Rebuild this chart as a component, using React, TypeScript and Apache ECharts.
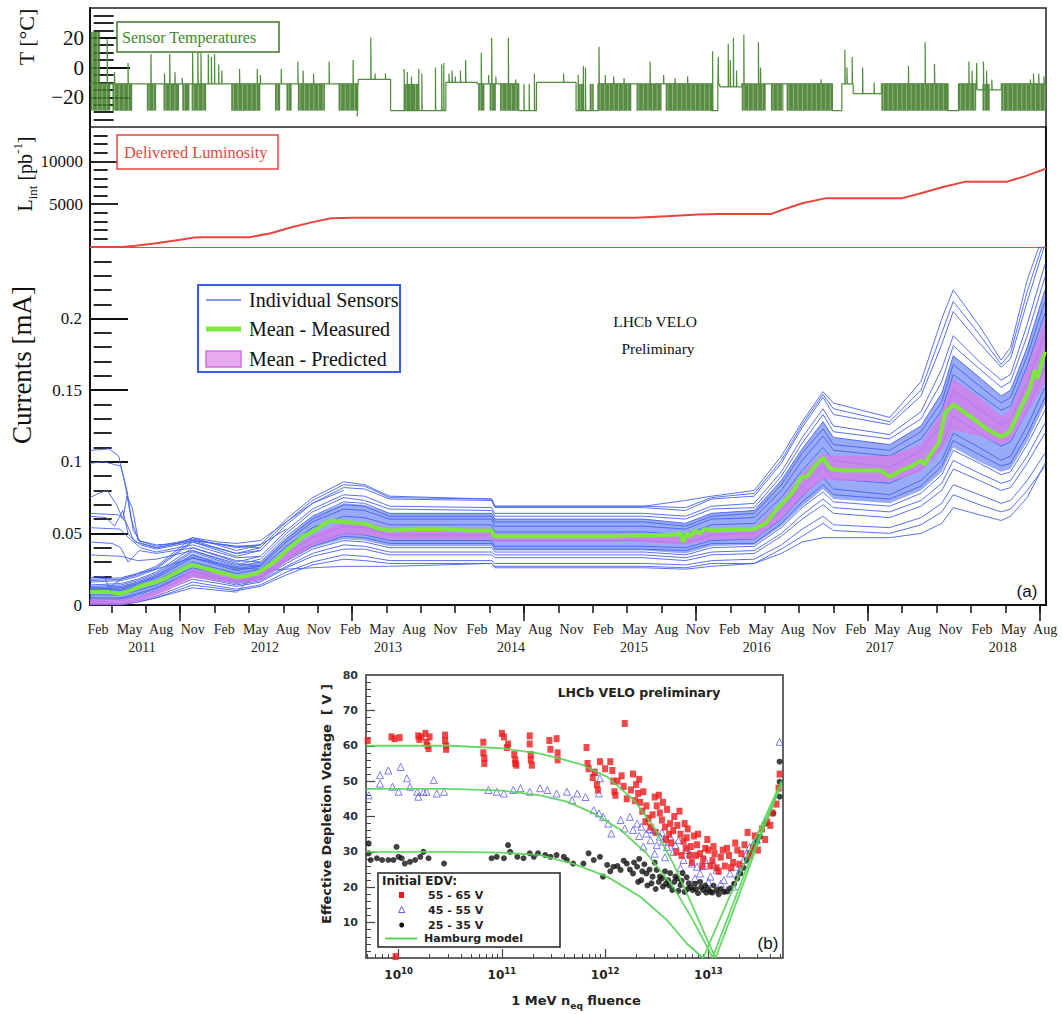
import React, { useEffect, useRef } from 'react';
import * as echarts from 'echarts';

const SERIF = '"Liberation Serif", "Times New Roman", serif';
const SANS = '"Liberation Sans", Arial, sans-serif';
const DJ = '"DejaVu Sans", Verdana, sans-serif';

// ---------- shared time axis: months after 1 Jan 2011 ----------
const X_MIN = -0.35;
const X_MAX = 91.4;
const quarterNames = ['Feb', 'May', 'Aug', 'Nov'];
const yearNames = ['2011', '2012', '2013', '2014', '2015', '2016', '2017', '2018'];
const LABEL0 = 0.42;
const LABEL_STEP = 3.03;
const YEAR0 = 4.65;
const YEAR_STEP = 11.8;
const TICK0 = 1.7;
const TICK_STEP = 3.3;

// ---------- (a) top panel: sensor temperatures [°C] ----------
// [month from which the resting level applies, level]
const tempLevels: [number, number][] = [
  [-0.35, -11], [25.4, -8], [28.5, -29], [33.8, -10], [36.8, -11], [40.8, -29], [42.5, -10],
  [46.3, -29], [48.4, -11], [59.3, -29], [59.9, -11.5], [60.1, -13], [62.2, -11], [70.9, -29],
  [71.8, -11], [72.9, -17.5], [75.6, -11], [82.0, -29], [83.0, -11], [84.7, -15], [87.1, -11], [91.4, -11],
];
// periods of dense cycling: [start, end, low, high]
const tempDense: number[][] = [
  [-0.3, 0.6, -29, 24], [0.6, 1.6, -29, -11], [1.8, 3.7, -29, -11], [5.1, 6.0, -29, -11],
  [6.7, 8.2, -29, -11], [8.5, 9.2, -29, -11], [9.4, 10.8, -29, -11], [13.2, 16.0, -29, -11],
  [17.4, 17.9, -29, -11], [18.5, 19.0, -29, -11], [19.6, 22.2, -29, -11], [23.5, 25.4, -29, -11],
  [29.8, 31.2, -29, -11], [36.9, 37.5, -29, -11], [38.0, 38.6, -29, -11], [39.0, 40.8, -29, -11],
  [46.5, 47.0, -29, -11], [47.6, 48.0, -29, -11], [48.4, 51.6, -29, -11], [52.1, 54.5, -29, -11],
  [54.9, 59.3, -29, -11], [62.2, 64.5, -29, -11], [65.0, 66.2, -29, -11], [66.5, 70.9, -29, -11],
  [75.6, 82.0, -29, -11], [83.0, 84.7, -29, -11], [85.3, 86.0, -29, -11], [87.1, 91.4, -29, -11],
];
// single excursions: [month, temperature reached]
const tempSpikes: [number, number][] = [
  [1.3, 19], [2.0, -3], [3.3, 3], [5.5, 9], [6.8, -4], [7.3, 9], [7.8, -3], [8.5, -7], [9.5, 10], [10.0, 10],
  [10.3, 10], [11.0, 9], [11.3, 7], [11.6, 9], [12.0, 2], [12.3, -2], [14.0, -1], [15.7, -1], [16.0, -5],
  [18.0, -1], [19.6, 4], [20.1, -2], [21.1, -4], [22.6, 4], [24.9, 5], [25.3, -33], [26.6, 20], [27.0, -4],
  [28.0, -4], [29.8, -1], [30.1, -3], [30.5, -6], [31.2, -1], [31.5, -4], [32.8, 0], [33.4, 2], [33.6, 3],
  [34.1, -4], [34.4, -2], [34.7, -6], [35.2, -2], [35.7, 5], [37.2, 10], [37.9, -5], [38.2, 20], [38.6, -6],
  [39.8, 20], [40.5, -8], [41.3, -11], [41.8, -11], [42.3, -4], [45.1, -4], [46.5, -5], [47.0, 1], [47.2, 0],
  [48.5, 14], [49.1, -5], [49.9, -6], [50.9, -7], [53.4, 4], [54.7, -5], [55.8, -7], [57.0, -6], [59.4, 11],
  [59.95, 7], [60.9, 16], [61.1, 5], [61.4, 20], [61.7, -2], [62.4, 22], [63.8, 17], [64.0, 0], [69.8, -8],
  [72.1, 12], [72.3, 0], [72.8, 7], [73.8, 0], [74.9, -10], [78.2, 1], [79.8, 17], [80.7, 2.5], [84.0, 4],
  [84.3, -2], [84.75, 3], [85.4, 4], [85.7, -2], [86.2, -8], [89.9, -8], [90.2, -4], [90.7, -4], [91.2, -6],
];

// ---------- (a) middle panel: delivered luminosity [pb^-1] ----------
const lumiMonths = [-0.35, 2.8, 4.0, 6.0, 8.0, 9.7, 10.5, 15.0, 17.0, 19.0, 21.0, 22.8, 25.0, 52.0, 55.0, 58.0, 60.0, 65.0, 66.5, 68.0, 70.3, 77.6, 79.5, 81.5, 83.6, 87.6, 89.5, 91.4];
const lumiValues = [0, 0, 150, 450, 800, 1100, 1150, 1150, 1600, 2300, 2900, 3350, 3400, 3400, 3600, 3800, 3850, 3850, 4500, 5100, 5700, 5700, 6300, 7000, 7600, 7600, 8300, 9150];

// ---------- (a) bottom panel: currents [mA] ----------
const knotMonths = [-0.35, 2.6, 4.2, 6, 9.5, 13.7, 16, 18.5, 21, 24, 26, 28.4, 38.2, 38.5, 52.8, 56.8, 59.3, 63.4, 66, 68, 70, 71, 76.4, 79.4, 81.4, 82.5, 85, 87.1, 88, 89.6, 91.3];
const sensorA = [0.018, 0.019, 0.022, 0.027, 0.047, 0.038, 0.042, 0.060, 0.075, 0.086, 0.084, 0.076, 0.074, 0.069, 0.069, 0.073, 0.076, 0.080, 0.104, 0.128, 0.149, 0.141, 0.131, 0.156, 0.200, 0.220, 0.195, 0.171, 0.180, 0.227, 0.262];
const sensorM = [0.017, 0.018, 0.021, 0.026, 0.045, 0.036, 0.040, 0.058, 0.073, 0.084, 0.083, 0.075, 0.074, 0.069, 0.069, 0.068, 0.075, 0.078, 0.101, 0.126, 0.147, 0.137, 0.128, 0.150, 0.190, 0.212, 0.189, 0.168, 0.176, 0.219, 0.257];
const sensorL = [0.016, 0.017, 0.020, 0.025, 0.044, 0.034, 0.038, 0.056, 0.071, 0.082, 0.081, 0.074, 0.073, 0.068, 0.068, 0.066, 0.074, 0.076, 0.099, 0.124, 0.145, 0.133, 0.126, 0.146, 0.182, 0.205, 0.183, 0.166, 0.172, 0.212, 0.252];
const sensorB = [0.014, 0.015, 0.018, 0.023, 0.040, 0.030, 0.034, 0.052, 0.067, 0.077, 0.076, 0.069, 0.068, 0.064, 0.064, 0.062, 0.069, 0.071, 0.093, 0.117, 0.137, 0.125, 0.119, 0.135, 0.165, 0.188, 0.170, 0.157, 0.161, 0.196, 0.238];
const sensorN = [0.013, 0.014, 0.017, 0.022, 0.038, 0.028, 0.032, 0.050, 0.065, 0.075, 0.073, 0.067, 0.066, 0.062, 0.062, 0.060, 0.067, 0.068, 0.090, 0.113, 0.133, 0.121, 0.116, 0.130, 0.156, 0.181, 0.165, 0.152, 0.156, 0.188, 0.229];
const sensorC = [0.012, 0.013, 0.016, 0.021, 0.037, 0.027, 0.030, 0.048, 0.062, 0.072, 0.071, 0.064, 0.064, 0.060, 0.060, 0.057, 0.064, 0.066, 0.087, 0.109, 0.128, 0.117, 0.112, 0.125, 0.148, 0.174, 0.159, 0.146, 0.150, 0.180, 0.220];
const sensorO = [0.011, 0.012, 0.015, 0.020, 0.035, 0.025, 0.028, 0.046, 0.060, 0.070, 0.069, 0.062, 0.062, 0.058, 0.058, 0.055, 0.062, 0.064, 0.084, 0.106, 0.123, 0.112, 0.108, 0.121, 0.142, 0.168, 0.153, 0.141, 0.145, 0.174, 0.212];
const sensorD = [0.011, 0.011, 0.014, 0.019, 0.033, 0.024, 0.027, 0.044, 0.058, 0.067, 0.066, 0.060, 0.060, 0.055, 0.055, 0.053, 0.060, 0.061, 0.080, 0.101, 0.118, 0.108, 0.104, 0.116, 0.136, 0.161, 0.147, 0.136, 0.139, 0.167, 0.204];
const sensorE = [0.010, 0.010, 0.013, 0.017, 0.030, 0.022, 0.025, 0.041, 0.054, 0.062, 0.061, 0.056, 0.056, 0.051, 0.051, 0.049, 0.056, 0.057, 0.075, 0.094, 0.110, 0.101, 0.096, 0.108, 0.126, 0.150, 0.137, 0.126, 0.129, 0.155, 0.189];
const sensorF = [0.007, 0.007, 0.010, 0.014, 0.026, 0.019, 0.022, 0.036, 0.047, 0.055, 0.054, 0.049, 0.049, 0.045, 0.045, 0.043, 0.049, 0.050, 0.066, 0.083, 0.097, 0.088, 0.085, 0.095, 0.111, 0.132, 0.120, 0.111, 0.114, 0.136, 0.166];
const sensorG = [0.005, 0.005, 0.008, 0.012, 0.024, 0.017, 0.020, 0.033, 0.043, 0.050, 0.049, 0.045, 0.045, 0.041, 0.041, 0.040, 0.045, 0.046, 0.060, 0.076, 0.089, 0.081, 0.077, 0.087, 0.101, 0.120, 0.110, 0.101, 0.104, 0.125, 0.152];
const sensorR = [0.004, 0.004, 0.007, 0.011, 0.023, 0.016, 0.019, 0.031, 0.041, 0.048, 0.047, 0.043, 0.043, 0.039, 0.039, 0.038, 0.043, 0.043, 0.057, 0.072, 0.084, 0.077, 0.074, 0.083, 0.097, 0.115, 0.105, 0.097, 0.099, 0.119, 0.145];
const sensorH = [0.003, 0.004, 0.006, 0.010, 0.021, 0.015, 0.018, 0.029, 0.039, 0.045, 0.044, 0.040, 0.040, 0.037, 0.037, 0.035, 0.040, 0.041, 0.054, 0.068, 0.079, 0.072, 0.069, 0.078, 0.091, 0.108, 0.099, 0.091, 0.093, 0.112, 0.136];
const sensorP = [0.002, 0.003, 0.005, 0.009, 0.020, 0.014, 0.017, 0.027, 0.036, 0.042, 0.041, 0.037, 0.037, 0.035, 0.035, 0.033, 0.037, 0.038, 0.050, 0.063, 0.074, 0.068, 0.065, 0.073, 0.085, 0.101, 0.092, 0.085, 0.087, 0.104, 0.127];
const sensorI = [0.002, 0.002, 0.004, 0.008, 0.018, 0.013, 0.016, 0.026, 0.034, 0.039, 0.039, 0.035, 0.035, 0.033, 0.033, 0.031, 0.035, 0.036, 0.048, 0.060, 0.070, 0.064, 0.061, 0.069, 0.080, 0.095, 0.087, 0.080, 0.082, 0.099, 0.120];
const sensorJ = [0.001, 0.001, 0.003, 0.006, 0.016, 0.011, 0.014, 0.023, 0.030, 0.035, 0.034, 0.031, 0.031, 0.029, 0.029, 0.028, 0.031, 0.032, 0.042, 0.053, 0.062, 0.056, 0.054, 0.061, 0.071, 0.084, 0.077, 0.071, 0.073, 0.087, 0.106];
const sensorQ = [0.001, 0.001, 0.002, 0.005, 0.014, 0.010, 0.013, 0.021, 0.028, 0.032, 0.031, 0.029, 0.029, 0.027, 0.027, 0.026, 0.029, 0.029, 0.039, 0.048, 0.057, 0.052, 0.050, 0.056, 0.065, 0.077, 0.070, 0.065, 0.067, 0.080, 0.097];
const sensorK = [0.000, 0.000, 0.002, 0.005, 0.012, 0.009, 0.024, 0.025, 0.026, 0.027, 0.027, 0.027, 0.029, 0.026, 0.026, 0.025, 0.027, 0.029, 0.036, 0.044, 0.047, 0.047, 0.047, 0.050, 0.057, 0.068, 0.063, 0.059, 0.062, 0.075, 0.099];
const individualSensors = [sensorA, sensorM, sensorL, sensorB, sensorN, sensorC, sensorO, sensorD, sensorE, sensorF, sensorG, sensorR, sensorH, sensorP, sensorI, sensorJ, sensorQ, sensorK];
// sensors that started high in early 2011: [month, current]
const earlySensors: [number, number][][] = [
  [[-0.35, 0.108], [1.5, 0.109], [2.4, 0.104], [3.0, 0.085], [3.6, 0.060], [4.3, 0.045], [6, 0.042], [8, 0.043], [9.5, 0.047], [12, 0.044], [13.7, 0.043], [16, 0.045], [18.5, 0.058], [21, 0.071], [24, 0.080]],
  [[-0.35, 0.099], [1.0, 0.100], [2.6, 0.097], [3.2, 0.080], [3.8, 0.052], [4.6, 0.043], [6, 0.040], [9.5, 0.045], [13.7, 0.041], [16, 0.042], [18.5, 0.053]],
  [[-0.35, 0.075], [0.5, 0.078], [1.3, 0.080], [2.2, 0.070], [2.8, 0.060], [3.2, 0.076], [3.7, 0.068], [4.3, 0.045], [6, 0.041], [9.5, 0.046], [13.7, 0.040], [16, 0.042]],
  [[-0.35, 0.064], [2.4, 0.063], [3.1, 0.058], [3.8, 0.046], [4.5, 0.042], [6, 0.039], [9.5, 0.044], [13.7, 0.036], [16, 0.038]],
  [[-0.35, 0.054], [2.5, 0.053], [3.5, 0.046], [4.5, 0.040], [6, 0.037], [9.5, 0.042], [13.7, 0.033], [16, 0.034]],
  [[-0.35, 0.044], [1.8, 0.043], [2.6, 0.040], [3.3, 0.030], [4.4, 0.038], [6, 0.036], [9.5, 0.040], [13.7, 0.031], [16, 0.030]],
  [[-0.35, 0.035], [2.6, 0.034], [4.2, 0.031], [6, 0.032], [9.5, 0.038], [13.7, 0.029], [16, 0.027]],
  [[-0.35, 0.019], [1.0, 0.020], [1.5, 0.012], [2.6, 0.018], [4.2, 0.022], [6, 0.025], [9.5, 0.033], [13.7, 0.026], [16, 0.025]],
  [[-0.35, 0.062], [1.2, 0.061], [2.0, 0.055], [2.8, 0.066], [3.3, 0.050], [4.0, 0.044], [6, 0.040], [9.5, 0.045], [13.7, 0.041], [16, 0.040]],
];
const coreLow = [0.004, 0.004, 0.007, 0.011, 0.021, 0.015, 0.018, 0.030, 0.040, 0.046, 0.045, 0.041, 0.041, 0.038, 0.038, 0.036, 0.041, 0.042, 0.055, 0.069, 0.081, 0.074, 0.071, 0.080, 0.093, 0.110, 0.100, 0.093, 0.095, 0.114, 0.140];
const coreHigh = [0.013, 0.013, 0.016, 0.021, 0.036, 0.027, 0.030, 0.047, 0.062, 0.071, 0.070, 0.064, 0.064, 0.060, 0.060, 0.057, 0.064, 0.066, 0.087, 0.109, 0.128, 0.117, 0.112, 0.125, 0.148, 0.174, 0.159, 0.146, 0.150, 0.180, 0.220];
const predLow = [0.000, 0.000, 0.002, 0.006, 0.019, 0.015, 0.017, 0.030, 0.041, 0.049, 0.049, 0.046, 0.046, 0.044, 0.044, 0.042, 0.046, 0.046, 0.060, 0.076, 0.088, 0.087, 0.086, 0.093, 0.108, 0.122, 0.118, 0.112, 0.115, 0.134, 0.155];
const predHigh = [0.004, 0.004, 0.006, 0.010, 0.025, 0.020, 0.023, 0.037, 0.049, 0.058, 0.058, 0.054, 0.054, 0.050, 0.050, 0.049, 0.053, 0.054, 0.072, 0.092, 0.106, 0.104, 0.104, 0.112, 0.135, 0.158, 0.145, 0.132, 0.136, 0.165, 0.200];
const meanMeasured: [number, number][] = [
  [-0.35, 0.009], [1.5, 0.009], [2.6, 0.008], [3.5, 0.010], [4.8, 0.014], [6, 0.016], [7, 0.019], [8, 0.023], [9.3, 0.028],
  [10, 0.027], [11, 0.025], [12.5, 0.022], [13.7, 0.0196], [14.5, 0.020], [15.6, 0.022], [16.5, 0.026], [17.5, 0.031],
  [18.5, 0.038], [19.3, 0.043], [20.1, 0.048], [21, 0.051], [22, 0.056], [22.7, 0.059], [24, 0.058], [26, 0.057], [27, 0.054],
  [28.4, 0.052], [31, 0.053], [33.5, 0.053], [36, 0.052], [38.2, 0.052], [38.4, 0.048], [45, 0.048], [50, 0.048], [55.7, 0.049],
  [56.3, 0.050], [56.6, 0.044], [56.9, 0.050], [57.3, 0.048], [57.7, 0.052], [58.2, 0.050], [58.6, 0.053], [59.3, 0.052],
  [63.4, 0.053], [64.5, 0.057], [65.7, 0.068], [66.5, 0.074], [67.2, 0.080], [67.9, 0.089], [68.5, 0.090], [69.2, 0.097],
  [70, 0.1027], [70.7, 0.095], [72, 0.094], [75.5, 0.094], [76.4, 0.0896], [77.5, 0.094], [78.5, 0.097], [79.4, 0.101],
  [79.8, 0.098], [80.2, 0.104], [81.1, 0.113], [81.7, 0.134], [82.5, 0.140], [83.9, 0.133], [85.9, 0.122], [87.1, 0.1175],
  [87.9, 0.121], [89, 0.138], [89.8, 0.150], [90.3, 0.164], [90.6, 0.158], [91, 0.170], [91.3, 0.177],
];

// ---------- (b): [log10(1 MeV neq fluence), effective depletion voltage V] ----------
const edv55to65: [number, number][] = [
  [9.70, 61.5], [9.93, 62.5], [9.96, 62.0], [10.01, 62.3], [10.19, 62.8], [10.20, 61.8], [10.22, 62.5], [10.26, 63.5], [10.27, 61.0],
  [10.28, 60.0], [10.29, 59.2], [10.30, 62.5], [10.45, 63.0], [10.45, 61.5], [10.46, 60.0], [10.46, 59.0], [10.82, 61.0], [10.82, 58.0],
  [10.83, 56.5], [10.83, 55.0], [11.00, 63.5], [11.02, 62.5], [11.05, 59.5], [11.06, 60.5], [11.12, 57.5], [11.13, 56.0], [11.13, 55.0],
  [11.14, 54.5], [11.27, 62.8], [11.27, 60.5], [11.28, 57.5], [11.28, 56.0], [11.29, 54.5], [11.46, 61.5], [11.47, 59.0], [11.53, 62.0],
  [11.54, 58.0], [11.54, 56.0], [11.82, 59.5], [11.83, 55.0], [11.84, 53.5], [11.90, 52.5], [11.92, 49.0], [11.93, 47.5], [12.05, 55.5],
  [12.07, 53.0], [12.08, 50.0], [12.09, 47.0], [12.10, 46.0], [12.16, 51.5], [12.18, 48.5], [12.19, 66.3], [12.27, 52.0], [12.30, 49.0],
  [12.32, 46.5], [12.34, 44.0], [12.36, 41.5], [12.40, 43.0], [12.42, 39.5], [12.44, 37.0], [12.48, 45.5], [12.50, 43.0], [12.53, 41.0],
  [12.55, 39.0], [12.58, 37.0], [12.60, 42.0], [12.62, 35.0], [12.64, 32.5], [12.67, 40.0], [12.70, 37.5], [12.73, 35.0], [12.76, 33.0],
  [12.78, 31.0], [12.80, 36.5], [12.82, 29.0], [12.84, 27.0], [12.86, 34.5], [12.89, 32.0], [12.92, 29.5], [12.95, 28.0], [12.97, 31.0],
  [13.00, 30.5], [13.04, 27.5], [13.05, 31.5], [13.08, 25.5], [13.10, 24.5], [13.12, 28.5], [13.16, 26.0], [13.18, 31.0], [13.20, 29.0],
  [13.24, 27.0], [13.28, 30.5], [13.30, 26.5], [13.35, 32.0], [13.40, 29.0], [13.45, 34.5], [13.48, 30.5], [13.57, 38.5], [13.62, 41.0],
  [13.66, 43.5], [13.68, 48.0], [13.69, 52.0], [9.97, 0.4],
  [12.25, 47.5], [12.29, 44.5], [12.33, 50.5], [12.37, 47.0], [12.39, 38.5], [12.46, 40.5], [12.49, 35.5], [12.52, 46.0], [12.56, 44.0],
  [12.59, 33.5], [12.63, 38.0], [12.66, 36.0], [12.69, 30.0], [12.72, 41.5], [12.74, 29.0], [12.77, 38.0], [12.79, 34.0], [12.83, 31.5],
  [12.88, 29.0], [12.90, 35.0], [12.94, 26.0], [12.99, 33.5], [13.02, 26.0], [13.06, 29.5], [13.14, 30.5], [13.22, 25.5], [13.26, 32.5],
  [13.32, 29.5], [13.38, 35.5], [13.43, 31.0], [13.52, 36.5], [13.55, 33.5], [13.60, 37.5], [12.00, 53.5], [11.95, 55.5], [12.12, 50.0],
  [12.21, 45.0], [11.88, 51.0],
];
const edv45to55: [number, number][] = [
  [9.71, 46.0], [9.82, 51.7], [9.82, 49.3], [9.90, 53.0], [9.94, 48.4], [10.00, 47.0], [10.02, 54.0], [10.08, 50.8], [10.11, 48.4],
  [10.18, 47.0], [10.19, 45.6], [10.24, 47.0], [10.27, 47.0], [10.34, 50.3], [10.37, 46.5], [10.44, 47.0], [10.87, 47.5], [10.95, 47.0],
  [11.02, 46.5], [11.11, 47.5], [11.18, 48.0], [11.27, 47.0], [11.37, 48.0], [11.44, 47.5], [11.53, 46.5], [11.63, 47.0], [11.68, 44.6],
  [11.73, 46.5], [11.81, 45.5], [11.90, 52.6], [11.94, 46.5], [11.95, 50.8], [11.89, 41.8], [11.94, 40.9], [11.98, 39.9], [12.03, 38.0],
  [12.06, 35.2], [12.15, 39.0], [12.19, 36.6], [12.24, 39.9], [12.27, 36.2], [12.31, 38.0], [12.35, 37.1], [12.40, 35.2], [12.44, 33.3],
  [12.47, 36.2], [12.50, 31.9], [12.53, 34.3], [12.56, 32.9], [12.60, 31.4], [12.63, 34.3], [12.66, 30.0], [12.71, 33.3], [12.76, 27.7],
  [12.79, 30.5], [12.84, 26.7], [12.89, 25.8], [12.92, 23.9], [12.97, 27.7], [13.02, 23.0], [13.08, 24.9], [13.15, 22.0], [13.18, 19.2],
  [13.21, 23.9], [13.24, 20.2], [13.27, 25.8], [13.34, 27.7], [13.40, 31.4], [13.47, 33.3], [13.69, 61.1],
  [12.33, 34.5], [12.37, 31.5], [12.43, 36.5], [12.48, 29.5], [12.55, 35.5], [12.58, 28.5], [12.68, 32.0], [12.73, 25.5], [12.82, 29.5],
  [12.87, 22.5], [12.95, 26.0], [13.00, 21.5], [13.05, 26.5], [13.12, 21.0], [13.30, 24.5], [13.37, 29.5], [13.44, 32.5],
];
const edv25to35: [number, number][] = [
  [9.71, 32.4], [9.71, 29.6], [9.73, 27.7], [9.79, 28.2], [9.84, 27.7], [9.90, 27.7], [9.95, 27.7], [9.98, 31.4], [10.00, 28.6],
  [10.03, 28.2], [10.06, 26.7], [10.11, 27.2], [10.16, 27.7], [10.21, 28.6], [10.24, 30.0], [10.29, 28.2], [10.44, 26.7], [10.90, 28.2],
  [10.95, 28.6], [11.02, 28.2], [11.06, 31.9], [11.08, 30.0], [11.15, 28.6], [11.21, 28.2], [11.27, 29.6], [11.31, 28.6], [11.35, 29.6],
  [11.42, 29.1], [11.47, 28.6], [11.53, 29.1], [11.60, 28.6], [11.63, 27.7], [11.69, 26.7], [11.79, 26.7], [11.84, 29.6], [11.89, 27.7],
  [11.95, 28.6], [11.98, 23.0], [12.02, 26.3], [12.08, 25.8], [12.15, 24.9], [12.21, 26.7], [12.27, 23.9], [12.31, 25.8], [12.33, 28.0],
  [12.35, 22.0], [12.38, 26.5], [12.40, 23.9], [12.43, 25.0], [12.45, 21.1], [12.48, 27.0], [12.50, 24.9], [12.52, 21.5], [12.53, 23.0],
  [12.56, 20.2], [12.58, 24.5], [12.61, 22.0], [12.62, 20.5], [12.65, 19.2], [12.68, 23.0], [12.70, 22.5], [12.73, 20.6], [12.75, 24.0],
  [12.77, 18.7], [12.80, 19.5], [12.81, 21.1], [12.85, 19.2], [12.87, 21.0], [12.90, 18.3], [12.93, 20.0], [12.95, 19.2], [12.98, 18.5],
  [13.02, 18.7], [13.05, 20.5], [13.08, 19.2], [13.12, 19.5], [13.15, 18.7], [13.21, 19.7], [13.31, 23.9], [13.37, 27.7], [13.44, 31.4],
  [13.50, 34.3], [13.56, 38.0], [13.63, 40.9], [13.69, 45.6], [13.69, 49.8], [13.69, 55.5],
  [12.32, 21.5], [12.36, 24.5], [12.41, 20.5], [12.46, 23.0], [12.49, 19.5], [12.55, 22.5], [12.59, 21.0], [12.63, 24.0], [12.67, 21.5],
  [12.71, 19.0], [12.74, 21.8], [12.79, 22.8], [12.83, 20.0], [12.88, 19.5], [12.92, 21.5], [12.97, 20.5], [13.00, 19.5], [13.04, 18.5],
  [13.10, 18.0], [13.18, 18.8], [13.25, 21.0], [13.28, 22.5], [13.34, 25.5], [13.40, 29.5], [13.47, 33.0], [12.18, 27.5], [12.24, 25.0],
  [12.12, 26.0], [12.05, 24.5], [12.28, 27.0],
];
const hamburg60: [number, number][] = [[9.684, 60], [10.5, 60], [11.0, 59.3], [11.37, 57.8], [11.6, 56.1], [11.79, 54.5], [12.02, 51.2], [12.28, 44.6], [12.47, 37.1], [12.66, 26.7], [12.82, 16.4], [12.99, 5.1], [13.07, 0], [13.3, 18], [13.5, 34], [13.71, 49.5]];
const hamburg48: [number, number][] = [[9.684, 47.8], [10.5, 47.8], [11.0, 47.3], [11.37, 46.0], [11.63, 44.2], [11.89, 40.9], [12.15, 36.2], [12.40, 29.6], [12.66, 20.1], [12.85, 10.7], [13.02, 1.4], [13.04, 0], [13.3, 20], [13.5, 35], [13.71, 49.5]];
const hamburg30: [number, number][] = [[9.684, 30], [10.5, 30], [11.0, 29.8], [11.37, 29.1], [11.69, 26.7], [12.02, 23.0], [12.34, 17.3], [12.60, 10.7], [12.79, 4.1], [12.95, 0], [13.2, 17], [13.45, 33.5], [13.71, 50]];
const bVoltageLabels = [10, 20, 30, 40, 50, 60, 70, 80];
const bDecades = [10, 11, 12, 13];

// ---------- helpers ----------
const zip = (xs: number[], ys: number[]) => xs.map((x, i) => [x, ys[i]]);

function buildTempLine() {
  const pts: number[][] = [];
  for (let i = 0; i < tempLevels.length - 1; i++) {
    const [m0, L] = tempLevels[i];
    const m1 = tempLevels[i + 1][0];
    pts.push([m0, L]);
    tempSpikes.filter((s) => s[0] >= m0 && s[0] < m1).forEach(([m, t]) => {
      pts.push([m, L], [m, t], [m + 0.03, L]);
    });
    pts.push([m1, L]);
  }
  return pts;
}

function band(xs: number[], lo: number[], hi: number[], fill: string, xi: number, yi: number, z: number) {
  return {
    type: 'custom', xAxisIndex: xi, yAxisIndex: yi, clip: true, silent: true, z,
    data: [[xs[0], lo[0]]],
    renderItem: (_p: any, api: any) => {
      const pts: number[][] = [];
      for (let i = 0; i < xs.length; i++) pts.push(api.coord([xs[i], hi[i]]));
      for (let i = xs.length - 1; i >= 0; i--) pts.push(api.coord([xs[i], lo[i]]));
      return { type: 'polygon', shape: { points: pts }, style: { fill } };
    },
  };
}

const blank = { axisLine: { show: false }, axisTick: { show: false }, axisLabel: { show: false }, splitLine: { show: false } };
const inTick = (values: number[], length: number, width = 1.8, color = '#111') => ({ show: true, inside: true, customValues: values, length, lineStyle: { color, width } });
const leftLine = { show: true, onZero: false, lineStyle: { color: '#111', width: 2 } };

function buildOption(): any {
  const tickMonths = Array.from({ length: 28 }, (_, k) => TICK0 + TICK_STEP * k);
  const longTickMonths = tickMonths.filter((_, k) => k % 5 === 2);
  const labelMonths = Array.from({ length: 31 }, (_, k) => LABEL0 + LABEL_STEP * k);
  const yearMonths = yearNames.map((_, k) => YEAR0 + YEAR_STEP * k);
  const tempMinor = [-35, -30, -25, -15, -10, -5, 5, 10, 15, 25, 30, 35];
  const lumiMinor = [1000, 2000, 3000, 4000, 6000, 7000, 8000, 9000, 11000, 12000, 13000];
  const curMinor: number[] = [];
  for (let i = 1; i < 25; i++) if (i % 5 !== 0) curMinor.push(i / 100);
  const vMinor: number[] = [];
  for (let v = 2; v < 80; v += 2) if (v % 10 !== 0) vMinor.push(v);
  const logMinor: number[] = [];
  for (let n = 9; n <= 13; n++) for (let k = 2; k <= 9; k++) {
    const l = n + Math.log10(k);
    if (l > 9.684 && l < 13.723) logMinor.push(l);
  }

  const series: any[] = [];
  // temperatures: dense cycling periods drawn as a striped block
  series.push({
    type: 'custom', xAxisIndex: 0, yAxisIndex: 0, clip: true, silent: true, z: 2,
    data: tempDense,
    renderItem: (_p: any, api: any) => {
      const a = api.coord([api.value(0), api.value(3)]);
      const b = api.coord([api.value(1), api.value(2)]);
      const children: any[] = [
        { type: 'rect', shape: { x: a[0], y: a[1], width: b[0] - a[0], height: b[1] - a[1] }, style: { fill: '#3c7724', opacity: 0.85 } },
      ];
      for (let x = a[0] + 2.2; x < b[0] - 1; x += 4.6) {
        children.push({ type: 'line', shape: { x1: x, y1: a[1], x2: x, y2: b[1] }, style: { stroke: 'rgba(190,225,180,0.55)', lineWidth: 0.9 } });
      }
      return { type: 'group', children };
    },
  });
  series.push({
    type: 'line', xAxisIndex: 0, yAxisIndex: 0, data: buildTempLine(), showSymbol: false, symbol: 'none', silent: true, z: 3,
    lineStyle: { color: '#4f8d3a', width: 1.2 },
  });
  // luminosity
  series.push({
    type: 'line', xAxisIndex: 1, yAxisIndex: 2, data: zip(lumiMonths, lumiValues), showSymbol: false, symbol: 'none', silent: true,
    lineStyle: { color: '#e8453c', width: 2 },
  });
  // currents
  series.push(band(knotMonths, coreLow, coreHigh, 'rgba(70,100,238,0.55)', 2, 5, 2));
  individualSensors.forEach((vals) => series.push({
    type: 'line', xAxisIndex: 2, yAxisIndex: 5, data: zip(knotMonths, vals), showSymbol: false, symbol: 'none', silent: true, z: 3,
    lineStyle: { color: '#4563ef', width: 1, opacity: 0.9 },
  }));
  earlySensors.forEach((pts) => series.push({
    type: 'line', xAxisIndex: 2, yAxisIndex: 5, data: pts, showSymbol: false, symbol: 'none', silent: true, z: 3,
    lineStyle: { color: '#4563ef', width: 1, opacity: 0.9 },
  }));
  series.push(band(knotMonths, predLow, predHigh, 'rgba(216,124,234,0.72)', 2, 5, 4));
  series.push({
    type: 'line', xAxisIndex: 2, yAxisIndex: 5, data: meanMeasured, showSymbol: false, symbol: 'none', silent: true, z: 5,
    lineStyle: { color: '#7be83a', width: 4 },
  });
  // (b)
  series.push({
    type: 'scatter', xAxisIndex: 6, yAxisIndex: 8, data: edv45to55, symbol: 'triangle', symbolSize: 7, silent: true, z: 3,
    itemStyle: { color: 'rgba(0,0,0,0)', borderColor: '#4a4af2', borderWidth: 0.9 },
  });
  series.push({
    type: 'scatter', xAxisIndex: 6, yAxisIndex: 8, data: edv25to35, symbol: 'circle', symbolSize: 6, silent: true, z: 4,
    itemStyle: { color: '#111' },
  });
  series.push({
    type: 'scatter', xAxisIndex: 6, yAxisIndex: 8, data: edv55to65, symbol: 'rect', symbolSize: [6, 7], silent: true, z: 5,
    itemStyle: { color: '#ee1c1c' },
  });
  [hamburg60, hamburg48, hamburg30].forEach((c) => series.push({
    type: 'line', xAxisIndex: 6, yAxisIndex: 8, data: c, showSymbol: false, symbol: 'none', silent: true, z: 6,
    lineStyle: { color: '#55d455', width: 1.8, opacity: 0.9 },
  }));

  const txt = (x: number, y: number, text: string, extra: any = {}, z = 101) => ({
    type: 'text', x, y, z, silent: true,
    style: { text, fill: '#111', fontFamily: SERIF, fontSize: 16, verticalAlign: 'middle', ...extra },
  });

  const graphic: any[] = [
    // panel boxes
    { type: 'rect', z: 100, silent: true, shape: { x: 117, y: 22, width: 162, height: 30 }, style: { fill: '#fff', stroke: '#3f7a25', lineWidth: 1.5 } },
    txt(122, 37.5, 'Sensor Temperatures', { fill: '#3d8a28', fontSize: 16 }),
    { type: 'rect', z: 100, silent: true, shape: { x: 117, y: 135, width: 161, height: 34 }, style: { fill: '#fff', stroke: '#e8463e', lineWidth: 1.5 } },
    txt(124, 152, 'Delivered Luminosity', { fill: '#e8463e', fontSize: 16.3 }),
    // axis titles
    { type: 'text', x: 26, y: 37, rotation: Math.PI / 2, silent: true, style: { text: 'T [°C]', fill: '#111', fontFamily: SERIF, fontSize: 22, align: 'center', verticalAlign: 'middle' } },
    {
      type: 'text', x: 25, y: 174, rotation: Math.PI / 2, silent: true,
      style: {
        text: '{n|L}{sub|int}{n| [pb}{sup|-1}{n|]}', align: 'center', verticalAlign: 'middle',
        rich: {
          n: { fontFamily: SERIF, fontSize: 20, fill: '#111', lineHeight: 28, verticalAlign: 'middle' },
          sub: { fontFamily: SERIF, fontSize: 13, fill: '#111', verticalAlign: 'bottom' },
          sup: { fontFamily: SERIF, fontSize: 13, fill: '#111', verticalAlign: 'top' },
        },
      },
    },
    { type: 'text', x: 22, y: 365, rotation: Math.PI / 2, silent: true, style: { text: 'Currents [mA]', fill: '#111', fontFamily: SERIF, fontSize: 27, align: 'center', verticalAlign: 'middle' } },
    // legend (a)
    { type: 'rect', z: 100, silent: true, shape: { x: 198, y: 285, width: 202, height: 87 }, style: { fill: '#fff', stroke: '#3a5cf0', lineWidth: 2 } },
    { type: 'line', z: 101, silent: true, shape: { x1: 206, y1: 300, x2: 241, y2: 300 }, style: { stroke: '#5a74ee', lineWidth: 1.5 } },
    { type: 'line', z: 101, silent: true, shape: { x1: 206, y1: 329, x2: 241, y2: 329 }, style: { stroke: '#7be83a', lineWidth: 5 } },
    { type: 'rect', z: 101, silent: true, shape: { x: 206, y: 351, width: 35, height: 16 }, style: { fill: '#e9abf0', stroke: '#d070e2', lineWidth: 1.5 } },
    txt(249, 300, 'Individual Sensors', { fontSize: 20 }),
    txt(249, 329, 'Mean - Measured', { fontSize: 20 }),
    txt(249, 359, 'Mean - Predicted', { fontSize: 20 }),
    txt(655, 321, 'LHCb VELO', { fontSize: 15.5, align: 'center' }),
    txt(658, 348, 'Preliminary', { fontSize: 15.5, align: 'center' }),
    txt(1027, 591, '(a)', { fontFamily: SANS, fontSize: 17, align: 'center' }),
    // (b) texts
    txt(639, 692, 'LHCb VELO preliminary', { fontFamily: DJ, fontWeight: 'bold', fontSize: 12.5, align: 'center', fill: '#222' }),
    { type: 'text', x: 326, y: 804, rotation: Math.PI / 2, silent: true, style: { text: 'Effective Depletion Voltage  [ V ]', fill: '#222', fontFamily: DJ, fontWeight: 'bold', fontSize: 13, align: 'center', verticalAlign: 'middle' } },
    {
      type: 'text', x: 576, y: 1000, silent: true,
      style: {
        text: '{n|1 MeV n}{sub|eq}{n| fluence}', align: 'center', verticalAlign: 'middle',
        rich: {
          n: { fontFamily: DJ, fontWeight: 'bold', fontSize: 13, fill: '#222', lineHeight: 20, verticalAlign: 'middle' },
          sub: { fontFamily: DJ, fontWeight: 'bold', fontSize: 9, fill: '#222', verticalAlign: 'bottom' },
        },
      },
    },
    txt(768, 943, '(b)', { fontFamily: SANS, fontSize: 17, align: 'center' }),
    // legend (b)
    { type: 'rect', z: 100, silent: true, shape: { x: 378, y: 873, width: 182, height: 74 }, style: { fill: '#fff', stroke: '#222', lineWidth: 1.5 } },
    txt(382, 881, 'Initial EDV:', { fontFamily: DJ, fontWeight: 'bold', fontSize: 12, fill: '#222' }),
    { type: 'rect', z: 101, silent: true, shape: { x: 399, y: 892, width: 5, height: 6 }, style: { fill: '#ee1c1c' } },
    { type: 'polygon', z: 101, silent: true, shape: { points: [[401.7, 906.5], [398.6, 912.5], [404.8, 912.5]] }, style: { fill: 'none', stroke: '#4a4af2', lineWidth: 0.9 } },
    { type: 'circle', z: 101, silent: true, shape: { cx: 401.7, cy: 925, r: 2.5 }, style: { fill: '#111' } },
    { type: 'line', z: 101, silent: true, shape: { x1: 385, y1: 938.5, x2: 417, y2: 938.5 }, style: { stroke: '#55d455', lineWidth: 2 } },
    txt(428, 895, '55 - 65 V', { fontFamily: DJ, fontWeight: 'bold', fontSize: 11, fill: '#222' }),
    txt(428, 910, '45 - 55 V', { fontFamily: DJ, fontWeight: 'bold', fontSize: 11, fill: '#222' }),
    txt(428, 925, '25 - 35 V', { fontFamily: DJ, fontWeight: 'bold', fontSize: 11, fill: '#222' }),
    txt(424, 938.5, 'Hamburg model', { fontFamily: DJ, fontWeight: 'bold', fontSize: 11, fill: '#222' }),
  ];

  const tAxis = { type: 'value', min: X_MIN, max: X_MAX };
  const supRich = {
    b: { fontFamily: DJ, fontWeight: 'bold', fontSize: 12, color: '#222', lineHeight: 17 },
    s: { fontFamily: DJ, fontWeight: 'bold', fontSize: 8.5, color: '#222', verticalAlign: 'top' },
  };

  return {
    animation: false,
    backgroundColor: '#fff',
    textStyle: { fontFamily: SERIF },
    grid: [
      { left: 90, top: 8, width: 956, height: 119, show: true, borderColor: '#222', borderWidth: 1.5, outerBoundsMode: 'none', containLabel: false },
      { left: 90, top: 127, width: 956, height: 120, show: false, outerBoundsMode: 'none', containLabel: false },
      { left: 90, top: 247, width: 956, height: 358, show: false, outerBoundsMode: 'none', containLabel: false },
      { left: 366, top: 675, width: 417, height: 283, show: true, borderColor: '#333', borderWidth: 1.5, outerBoundsMode: 'none', containLabel: false },
    ],
    xAxis: [
      { ...tAxis, gridIndex: 0, show: false },
      { ...tAxis, gridIndex: 1, ...blank, axisLine: { show: true, onZero: false, lineStyle: { color: '#e8463e', width: 1 } } },
      {
        ...tAxis, gridIndex: 2, position: 'bottom', ...blank,
        axisLine: { show: true, onZero: false, lineStyle: { color: '#111', width: 2 } },
        axisTick: { show: true, customValues: tickMonths, length: 8, lineStyle: { color: '#111', width: 1.5 } },
      },
      { ...tAxis, gridIndex: 2, position: 'bottom', ...blank, axisTick: { show: true, customValues: longTickMonths, length: 16, lineStyle: { color: '#111', width: 1.5 } } },
      {
        ...tAxis, gridIndex: 2, position: 'bottom', ...blank,
        axisLabel: {
          show: true, customValues: labelMonths, margin: 17, fontFamily: SERIF, fontSize: 14, color: '#222',
          formatter: (v: number) => quarterNames[((Math.round((v - LABEL0) / LABEL_STEP) % 4) + 4) % 4],
        },
      },
      {
        ...tAxis, gridIndex: 2, position: 'bottom', ...blank,
        axisLabel: {
          show: true, customValues: yearMonths, margin: 35, fontFamily: SERIF, fontSize: 14, color: '#222',
          formatter: (v: number) => yearNames[Math.round((v - YEAR0) / YEAR_STEP)] || '',
        },
      },
      {
        type: 'value', gridIndex: 3, min: 9.684, max: 13.723, position: 'bottom', ...blank,
        axisTick: inTick(logMinor, 4, 1, '#444'),
        axisLabel: { show: true, customValues: bDecades, margin: 8, formatter: (v: number) => `{b|10}{s|${Math.round(v)}}`, rich: supRich },
      },
      { type: 'value', gridIndex: 3, min: 9.684, max: 13.723, position: 'bottom', ...blank, axisTick: inTick(bDecades, 9, 1.2, '#444') },
    ],
    yAxis: [
      {
        type: 'value', gridIndex: 0, min: -40, max: 40, position: 'left', ...blank, axisLine: leftLine,
        axisTick: inTick([-20, 0, 20], 40),
        axisLabel: { show: true, customValues: [-20, 0, 20], margin: 6, fontFamily: SERIF, fontSize: 21, color: '#111', formatter: (v: number) => (v < 0 ? '\u2212' + Math.abs(v) : String(v)) },
      },
      { type: 'value', gridIndex: 0, min: -40, max: 40, position: 'left', ...blank, axisTick: inTick(tempMinor, 20) },
      {
        type: 'value', gridIndex: 1, min: 0, max: 14000, position: 'left', ...blank, axisLine: leftLine,
        axisTick: inTick([5000, 10000], 28),
        axisLabel: { show: true, customValues: [5000, 10000], margin: 7, fontFamily: SERIF, fontSize: 17, color: '#111', formatter: (v: number) => String(Math.round(v)) },
      },
      { type: 'value', gridIndex: 1, min: 0, max: 14000, position: 'left', ...blank, axisTick: inTick(lumiMinor, 14) },
      { type: 'value', gridIndex: 1, min: 0, max: 14000, position: 'right', ...blank, axisLine: leftLine },
      {
        type: 'value', gridIndex: 2, min: 0, max: 0.25, position: 'left', ...blank, axisLine: leftLine,
        axisTick: inTick([0.05, 0.1, 0.15, 0.2], 38),
        axisLabel: { show: true, customValues: [0, 0.05, 0.1, 0.15, 0.2], margin: 8, fontFamily: SERIF, fontSize: 17, color: '#111', formatter: (v: number) => String(v) },
      },
      { type: 'value', gridIndex: 2, min: 0, max: 0.25, position: 'left', ...blank, axisTick: inTick(curMinor, 18) },
      { type: 'value', gridIndex: 2, min: 0, max: 0.25, position: 'right', ...blank, axisLine: leftLine },
      {
        type: 'value', gridIndex: 3, min: 0, max: 80, position: 'left', ...blank,
        axisTick: inTick([10, 20, 30, 40, 50, 60, 70], 9, 1.2, '#444'),
        axisLabel: { show: true, customValues: bVoltageLabels, margin: 8, fontFamily: DJ, fontWeight: 'bold', fontSize: 11, color: '#333' },
      },
      { type: 'value', gridIndex: 3, min: 0, max: 80, position: 'left', ...blank, axisTick: inTick(vMinor, 5, 1, '#444') },
    ],
    series,
    graphic,
  };
}

export default function App() {
  const ref = useRef<HTMLDivElement>(null);
  useEffect(() => {
    if (!ref.current) return;
    const chart = echarts.init(ref.current, null, { renderer: 'svg' });
    chart.setOption(buildOption());
    return () => chart.dispose();
  }, []);
  return <div ref={ref} style={{ position: 'fixed', left: 0, top: 0, width: 1062, height: 1014, background: '#fff' }} />;
}
